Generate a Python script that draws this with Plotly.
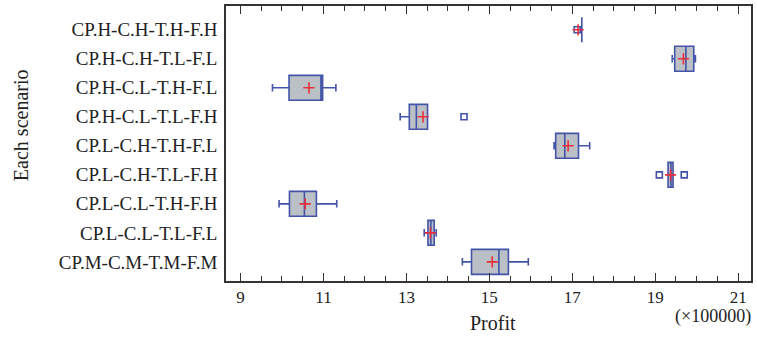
import plotly.graph_objects as go

# Scenario names, top to bottom
scenarios = [
    "CP.H-C.H-T.H-F.H",
    "CP.H-C.H-T.L-F.L",
    "CP.H-C.L-T.H-F.L",
    "CP.H-C.L-T.L-F.H",
    "CP.L-C.H-T.H-F.L",
    "CP.L-C.H-T.L-F.H",
    "CP.L-C.L-T.H-F.H",
    "CP.L-C.L-T.L-F.L",
    "CP.M-C.M-T.M-F.M",
]

# Profit box statistics (x 100000)
lower_fence = [17.23, 19.41, 9.77, 12.85, 16.56, 19.31, 9.93, 13.43, 14.35]
q1 = [17.23, 19.47, 10.17, 13.07, 16.60, 19.31, 10.18, 13.52, 14.57]
median = [17.23, 19.74, 10.94, 13.24, 16.82, 19.38, 10.54, 13.59, 15.23]
q3 = [17.23, 19.93, 10.98, 13.51, 17.15, 19.43, 10.83, 13.67, 15.46]
upper_fence = [17.23, 19.97, 11.30, 13.51, 17.42, 19.43, 11.32, 13.72, 15.94]
mean = [17.14, 19.68, 10.65, 13.40, 16.90, 19.37, 10.56, 13.58, 15.07]

# Outlying observations
outlier_scenario = ["CP.H-C.H-T.H-F.H", "CP.H-C.L-T.L-F.H",
                    "CP.L-C.H-T.L-F.H", "CP.L-C.H-T.L-F.H"]
outlier_value = [17.12, 14.39, 19.10, 19.70]

x_ticks = [9, 11, 13, 15, 17, 19, 21]

BLUE = "#4253A8"
FILL = "#BBC0C7"
RED = "#E8303C"
FONT = "Liberation Serif"
TEXT = "#222222"

fig = go.Figure()

fig.add_trace(go.Box(
    y=scenarios,
    q1=q1, median=median, q3=q3,
    lowerfence=lower_fence, upperfence=upper_fence,
    orientation="h",
    boxpoints=False,
    width=0.86,
    whiskerwidth=0.3,
    fillcolor=FILL,
    line=dict(color=BLUE, width=1.6),
    showlegend=False,
))

fig.add_trace(go.Scatter(
    x=outlier_value, y=outlier_scenario,
    mode="markers",
    marker=dict(symbol="square-open", size=6, color=BLUE,
                line=dict(width=1.6, color=BLUE)),
    showlegend=False,
))

fig.add_trace(go.Scatter(
    x=mean, y=scenarios,
    mode="markers",
    marker=dict(symbol="cross-thin", size=8, color=RED,
                line=dict(width=1.6, color=RED)),
    showlegend=False,
))

fig.update_layout(
    width=757, height=343,
    margin=dict(l=226, r=4, t=6, b=62),
    paper_bgcolor="white",
    plot_bgcolor="white",
    font=dict(family=FONT, color=TEXT, size=17),
    xaxis=dict(
        range=[8.65, 21.31],
        tickvals=x_ticks,
        ticktext=[str(v) for v in x_ticks],
        ticks="inside", ticklen=8, tickwidth=1.3, tickcolor="#333333",
        minor=dict(dtick=0.5, tick0=9, ticks="inside", ticklen=5,
                   tickwidth=1, tickcolor="#333333"),
        showline=True, linecolor="#333333", linewidth=1.5, mirror="ticks",
        showgrid=False, zeroline=False,
        tickfont=dict(size=17, family=FONT, color=TEXT),
    ),
    yaxis=dict(
        type="category",
        categoryorder="array", categoryarray=scenarios,
        range=[8.66, -0.82],
        ticks="", showline=True, linecolor="#333333", linewidth=1.5,
        mirror=True, showgrid=False, zeroline=False,
        tickfont=dict(size=19, family=FONT, color=TEXT),
        ticklabelstandoff=3,
    ),
    annotations=[
        dict(text="Each scenario", x=-0.389, y=0.566, xref="paper",
             yref="paper", xanchor="center", yanchor="middle",
             showarrow=False, textangle=-90,
             font=dict(size=20, family=FONT, color=TEXT)),
        dict(text="Profit", x=0.509, y=-0.151, xref="paper", yref="paper",
             xanchor="center", yanchor="middle", showarrow=False,
             font=dict(size=20, family=FONT, color=TEXT)),
        dict(text="(\u00d7100000)", x=1.004, y=-0.128, xref="paper",
             yref="paper", xanchor="right", yanchor="middle",
             showarrow=False,
             font=dict(size=18, family=FONT, color=TEXT)),
    ],
)

fig.write_html("out.html")
